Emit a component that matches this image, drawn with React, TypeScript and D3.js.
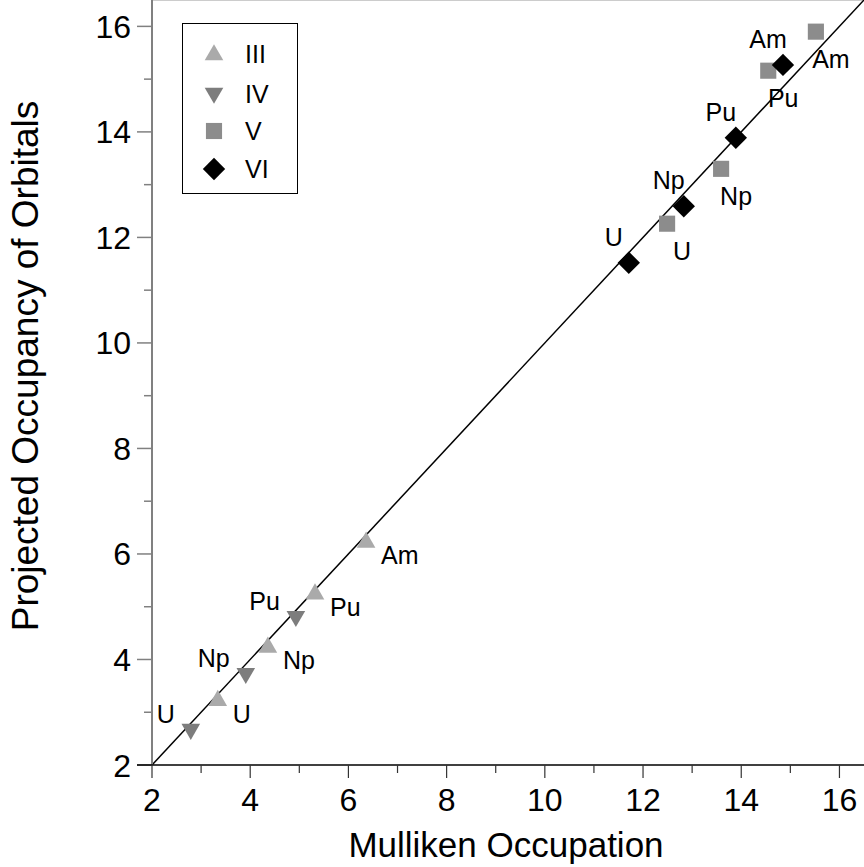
import React from "react";
import * as d3 from "d3";

const elements = ["U", "Np", "Pu", "Am"];
const seriesNames = ["III", "IV", "V", "VI"];
const mullikenIII = [3.34, 4.36, 5.32, 6.36];
const projectedIII = [3.24, 4.25, 5.26, 6.24];
const mullikenIV = [2.79, 3.91, 4.93];
const projectedIV = [2.66, 3.72, 4.8];
const mullikenV = [12.49, 13.59, 14.55, 15.52];
const projectedV = [12.26, 13.3, 15.16, 15.9];
const mullikenVI = [11.71, 12.83, 13.89, 14.85];
const projectedVI = [11.52, 12.59, 13.89, 15.27];
const majorTicks = [2, 4, 6, 8, 10, 12, 14, 16];
const minorTicks = [3, 5, 7, 9, 11, 13, 15];

const W = 864;
const H = 867;
const left = 152;
const right = 864;
const top = 0;
const bottom = 765;
const FONT = "'Liberation Sans', Arial, Helvetica, sans-serif";

const colors: Record<string, string> = { III: "#aaaaaa", IV: "#7d7d7d", V: "#8c8c8c", VI: "#000000" };

const x = d3.scaleLinear().domain([2, 16.5]).range([left, right]);
const y = d3.scaleLinear().domain([2, 16.5]).range([bottom, top]);

const triUp = d3.symbol().type(d3.symbolTriangle).size(150)()!;
const square = d3.symbol().type(d3.symbolSquare).size(260)()!;
const diamond = d3.symbol().type(d3.symbolSquare).size(250)()!;

function marker(series: string, cx: number, cy: number, key: string) {
  const fill = colors[series];
  if (series === "III")
    return <path key={key} d={triUp} transform={`translate(${cx},${cy + 1})`} fill={fill} />;
  if (series === "IV")
    return <path key={key} d={triUp} transform={`translate(${cx},${cy - 1}) rotate(180)`} fill={fill} />;
  if (series === "V") return <path key={key} d={square} transform={`translate(${cx},${cy})`} fill={fill} />;
  return <path key={key} d={diamond} transform={`translate(${cx},${cy}) rotate(45)`} fill={fill} />;
}

type Pt = { series: string; el: string; mx: number; py: number };
const pts: Pt[] = [];
mullikenIII.forEach((v, i) => pts.push({ series: "III", el: elements[i], mx: v, py: projectedIII[i] }));
mullikenIV.forEach((v, i) => pts.push({ series: "IV", el: elements[i], mx: v, py: projectedIV[i] }));
mullikenV.forEach((v, i) => pts.push({ series: "V", el: elements[i], mx: v, py: projectedV[i] }));
mullikenVI.forEach((v, i) => pts.push({ series: "VI", el: elements[i], mx: v, py: projectedVI[i] }));

function label(p: Pt, key: string) {
  const cx = x(p.mx);
  const cy = y(p.py);
  const fs = 25;
  const common = { fontFamily: FONT, fontSize: fs, fill: "#000" };
  if (p.series === "III")
    return <text key={key} x={cx + 15} y={cy + 14 + 9} textAnchor="start" {...common}>{p.el}</text>;
  if (p.series === "IV")
    return <text key={key} x={cx - 16} y={cy - 16 + 9} textAnchor="end" {...common}>{p.el}</text>;
  if (p.series === "V")
    return <text key={key} x={cx + 15} y={cy + 27 + 9} textAnchor="middle" {...common}>{p.el}</text>;
  return <text key={key} x={cx - 15} y={cy - 26 + 9} textAnchor="middle" {...common}>{p.el}</text>;
}

export default function App() {
  const legendRows = [54, 94, 131, 169];
  return (
    <svg width={W} height={H} style={{ position: "absolute", left: 0, top: 0, background: "#fff" }}>
      <rect x={0} y={0} width={W} height={H} fill="#fff" />
      {/* top border */}
      <line x1={left} x2={right} y1={0.5} y2={0.5} stroke="#cccccc" strokeWidth={1} />
      {/* diagonal */}
      <line x1={x(2)} y1={y(2)} x2={x(16.5)} y2={y(16.5)} stroke="#000" strokeWidth={1.5} />
      {/* left axis */}
      <line x1={left} x2={left} y1={top} y2={bottom} stroke="#808080" strokeWidth={2} />
      {majorTicks.map((t) => (
        <line key={"ym" + t} x1={left - 15} x2={left} y1={y(t)} y2={y(t)} stroke="#808080" strokeWidth={1.5} />
      ))}
      {minorTicks.map((t) => (
        <line key={"yn" + t} x1={left - 8} x2={left} y1={y(t)} y2={y(t)} stroke="#808080" strokeWidth={1.5} />
      ))}
      {majorTicks.map((t) => (
        <text key={"yl" + t} x={131} y={y(t) + 11.5} textAnchor="end" fontFamily={FONT} fontSize={32} fill="#000">
          {t}
        </text>
      ))}
      {/* bottom axis */}
      <line x1={left - 15} x2={right} y1={bottom} y2={bottom} stroke="#000" strokeWidth={1.5} />
      {majorTicks.map((t) => (
        <line key={"xm" + t} x1={x(t)} x2={x(t)} y1={bottom} y2={bottom + 13} stroke="#333" strokeWidth={1.2} />
      ))}
      {minorTicks.map((t) => (
        <line key={"xn" + t} x1={x(t)} x2={x(t)} y1={bottom} y2={bottom + 8} stroke="#333" strokeWidth={1.2} />
      ))}
      {majorTicks.map((t) => (
        <text key={"xl" + t} x={x(t)} y={811} textAnchor="middle" fontFamily={FONT} fontSize={32} fill="#000">
          {t}
        </text>
      ))}
      {/* axis titles */}
      <text x={506} y={857} textAnchor="middle" fontFamily={FONT} fontSize={35} fill="#000">
        Mulliken Occupation
      </text>
      <text
        transform={`translate(38,${366}) rotate(-90)`}
        textAnchor="middle"
        fontFamily={FONT}
        fontSize={37}
        fill="#000"
      >
        Projected Occupancy of Orbitals
      </text>
      {/* points */}
      {pts.map((p, i) => marker(p.series, x(p.mx), y(p.py), "m" + i))}
      {pts.map((p, i) => label(p, "l" + i))}
      {/* legend */}
      <rect x={182.5} y={23.5} width={115} height={170} fill="#fff" stroke="#000" strokeWidth={1} />
      {seriesNames.map((s, i) => (
        <g key={"lg" + s}>
          {marker(s, 214, legendRows[i], "lgm" + s)}
          <text x={245} y={legendRows[i] + 9} fontFamily={FONT} fontSize={25} fill="#000">
            {s}
          </text>
        </g>
      ))}
    </svg>
  );
}
